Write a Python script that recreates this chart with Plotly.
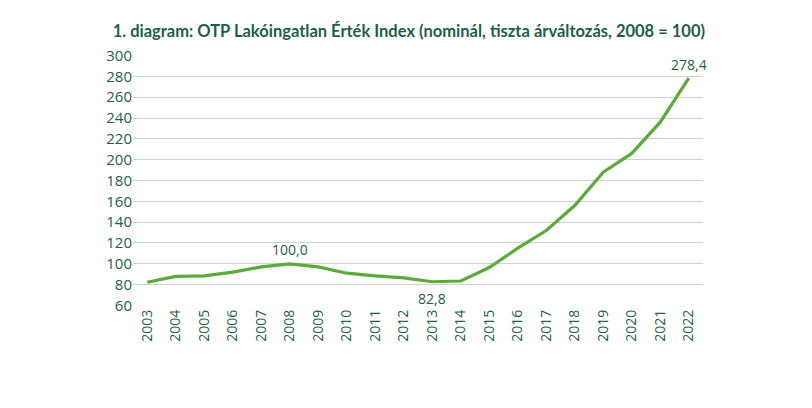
import plotly.graph_objects as go

years = [str(y) for y in range(2003, 2023)]
values = [82.3, 88.0, 88.5, 92.0, 97.0, 100.0, 97.0, 91.0, 88.5, 86.5,
          82.8, 83.5, 96.4, 115.0, 132.0, 156.0, 188.0, 206.0, 236.0, 278.4]
label_years = ["2008", "2013", "2022"]
label_texts = ["100,0", "82,8", "278,4"]
label_pos = ["above", "below", "above"]

TEXT = "#1d5e47"
GREEN = "#5aaa3c"

fig = go.Figure()
fig.add_trace(go.Scatter(x=years, y=values, mode="lines",
                         line=dict(color=GREEN, width=3.2), hoverinfo="skip"))

for yr, txt, pos in zip(label_years, label_texts, label_pos):
    i = years.index(yr)
    fig.add_annotation(x=i, y=values[i], text=txt, showarrow=False,
                       yshift=14 if pos == "above" else -17,
                       font=dict(size=14, color=TEXT, family="Open Sans"))

W, H = 804, 400
fig.update_layout(
    width=W, height=H,
    margin=dict(l=125, r=109, t=47, b=102),
    paper_bgcolor="white", plot_bgcolor="white",
    showlegend=False,
    title=dict(text="<b>1. diagram: OTP Lakóingatlan Érték Index (nominál, tiszta árváltozás, 2008 = 100)</b>",
               x=697 / W, xanchor="right", xref="container",
               y=1 - 23 / H, yanchor="middle", yref="container",
               font=dict(size=16.5, color=TEXT, family="Lato")),
    xaxis=dict(type="category", categoryorder="array", categoryarray=years,
               range=[-0.5, len(years) - 0.5],
               tickangle=-90, showgrid=False, ticks="",
               tickfont=dict(size=14, color=TEXT, family="Open Sans"),
               showline=False),
    yaxis=dict(range=[59.5, 300.5], tickvals=list(range(60, 301, 20)),
               showgrid=True, gridcolor="#d0d0d0", gridwidth=1.3,
               zeroline=False, ticks="",
               tickfont=dict(size=15, color=TEXT, family="Open Sans")),
)

fig.write_html("out.html")
